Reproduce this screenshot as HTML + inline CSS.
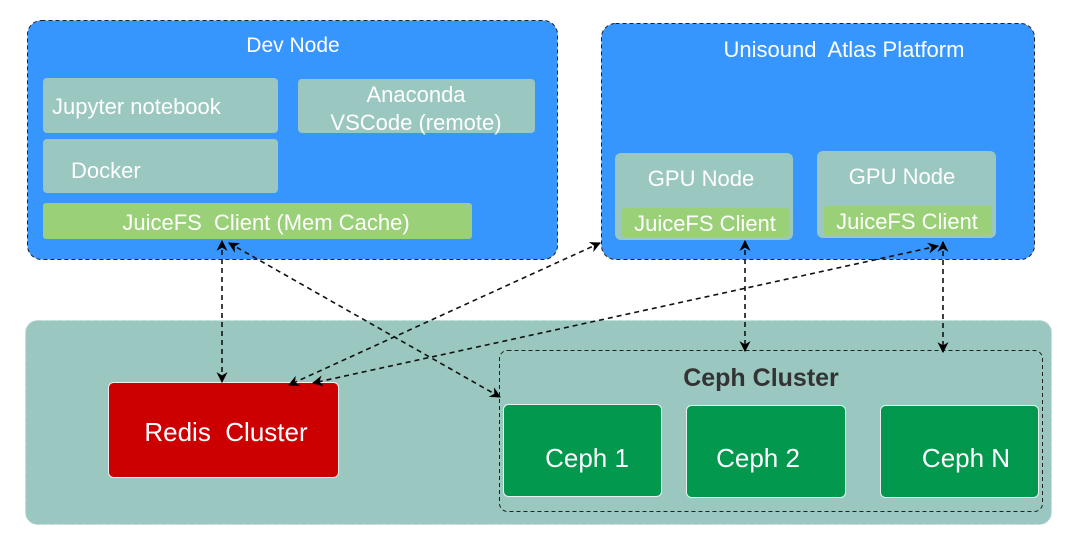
<!DOCTYPE html>
<html><head><meta charset="utf-8"><style>
body{margin:0;width:1080px;height:543px;background:#fff;overflow:hidden;font-family:"Liberation Sans",sans-serif}
text{white-space:pre}
</style></head><body>
<svg width="1080" height="543" viewBox="0 0 1080 543" xmlns="http://www.w3.org/2000/svg" font-family="Liberation Sans, sans-serif">
<defs>
<marker id="a" viewBox="0 0 10 10" refX="9" refY="5" markerWidth="11" markerHeight="11" markerUnits="userSpaceOnUse" orient="auto-start-reverse"><path d="M0,0 L10,5 L0,10 L3,5 z" fill="#000"/></marker>
</defs>
<rect x="27.5" y="20.5" width="530" height="239" rx="14" fill="#3796fd" stroke="#222" stroke-dasharray="4,3"/>
<text x="293" y="52" fill="#fff" font-size="21" text-anchor="middle">Dev Node</text>
<rect x="43" y="78" width="235" height="55" rx="4" fill="#9ac7c0"/>
<text x="52" y="114" fill="#fff" font-size="22">Jupyter notebook</text>
<rect x="43" y="139" width="235" height="54" rx="4" fill="#9ac7c0"/>
<text x="71" y="178" fill="#fff" font-size="22">Docker</text>
<rect x="298" y="79" width="237" height="54" rx="4" fill="#9ac7c0"/>
<text x="416" y="102" fill="#fff" font-size="22" text-anchor="middle">Anaconda</text>
<text x="416" y="130" fill="#fff" font-size="22" text-anchor="middle">VSCode (remote)</text>
<rect x="43" y="203" width="429" height="36" rx="3" fill="#9ad077"/>
<text x="266" y="230" fill="#fff" font-size="22" text-anchor="middle" xml:space="preserve">JuiceFS  Client (Mem Cache)</text>
<rect x="601.5" y="23.5" width="433" height="236" rx="14" fill="#3796fd" stroke="#222" stroke-dasharray="4,3"/>
<text x="844" y="57" fill="#fff" font-size="22" text-anchor="middle" xml:space="preserve">Unisound  Atlas Platform</text>
<rect x="615" y="153" width="178" height="87" rx="6" fill="#9ac7c0"/>
<text x="701" y="186" fill="#fff" font-size="22" text-anchor="middle">GPU Node</text>
<rect x="622" y="208" width="167" height="29" rx="3" fill="#9ad077"/>
<text x="705" y="231" fill="#fff" font-size="22" text-anchor="middle">JuiceFS Client</text>
<rect x="817" y="151" width="179" height="87" rx="6" fill="#9ac7c0"/>
<text x="902" y="184" fill="#fff" font-size="22" text-anchor="middle">GPU Node</text>
<rect x="824" y="206" width="168" height="29" rx="3" fill="#9ad077"/>
<text x="907" y="229" fill="#fff" font-size="22" text-anchor="middle">JuiceFS Client</text>
<rect x="25.5" y="320.5" width="1026" height="204" rx="12" fill="#9ac7c0" stroke="#c0dcd8" stroke-dasharray="4,3"/>
<rect x="108.5" y="382.5" width="230" height="95" rx="5" fill="#cc0000" stroke="#eee"/>
<text x="226" y="441" fill="#fff" font-size="26" text-anchor="middle" xml:space="preserve">Redis  Cluster</text>
<rect x="499.5" y="350.5" width="543" height="161" rx="8" fill="none" stroke="#222" stroke-dasharray="4,3"/>
<text x="761" y="386" fill="#333" font-size="25" font-weight="bold" text-anchor="middle">Ceph Cluster</text>
<rect x="503.5" y="404.5" width="158" height="92" rx="5" fill="#02984d" stroke="#eee"/>
<text x="587" y="467" fill="#fff" font-size="26" text-anchor="middle">Ceph 1</text>
<rect x="686.5" y="405.5" width="159" height="92" rx="5" fill="#02984d" stroke="#eee"/>
<text x="758" y="467" fill="#fff" font-size="26" text-anchor="middle">Ceph 2</text>
<rect x="880.5" y="405.5" width="158" height="92" rx="5" fill="#02984d" stroke="#eee"/>
<text x="966" y="467" fill="#fff" font-size="26" text-anchor="middle">Ceph N</text>
<g stroke="#111" stroke-width="1.6" stroke-dasharray="5,4" fill="none" marker-start="url(#a)" marker-end="url(#a)">
<line x1="222" y1="241" x2="222" y2="382"/>
<line x1="229" y1="243" x2="500" y2="397"/>
<line x1="600" y1="243" x2="289" y2="385"/>
<line x1="938" y1="246" x2="313" y2="383"/>
<line x1="745" y1="241" x2="745" y2="351"/>
<line x1="943" y1="242" x2="943" y2="352"/>
</g>
</svg>
</body></html>
